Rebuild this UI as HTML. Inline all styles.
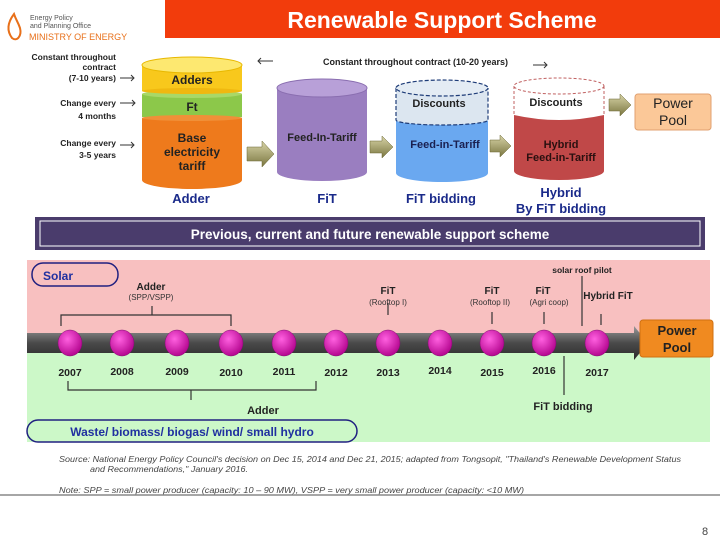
<!DOCTYPE html>
<html><head><meta charset="utf-8"><style>
html,body{margin:0;padding:0;background:#fff;width:720px;height:540px;overflow:hidden}
svg{display:block}
text{font-family:"Liberation Sans",sans-serif}
</style></head><body>
<svg width="720" height="540" viewBox="0 0 720 540" xmlns="http://www.w3.org/2000/svg">
<defs>
<linearGradient id="arr" x1="0" y1="0" x2="0" y2="1"><stop offset="0" stop-color="#d8d4a8"/><stop offset="1" stop-color="#7a7640"/></linearGradient>
<linearGradient id="bar" x1="0" y1="0" x2="0" y2="1"><stop offset="0" stop-color="#9a9a9a"/><stop offset="0.5" stop-color="#4a4a4a"/><stop offset="1" stop-color="#2a2a2a"/></linearGradient>
<radialGradient id="dot" cx="0.4" cy="0.35" r="0.7"><stop offset="0" stop-color="#ff60e0"/><stop offset="1" stop-color="#b0008a"/></radialGradient>
</defs>
<rect x="165" y="0" width="555" height="38" fill="#f23c0c"/>
<text x="442" y="28" font-size="23" font-weight="bold" fill="#fff" text-anchor="middle">Renewable Support Scheme</text>
<path d="M14 14 C8 22 6 30 12 38 C17 42 22 36 20 28 C18 22 16 20 14 14Z" fill="none" stroke="#e8701a" stroke-width="2"/>
<text x="30" y="20" font-size="7" fill="#555">Energy Policy</text>
<text x="30" y="28" font-size="7" fill="#555">and Planning Office</text>
<text x="29" y="40" font-size="9" fill="#e8701a">MINISTRY OF ENERGY</text>
<g font-size="8.5" font-weight="bold" fill="#222" text-anchor="end">
<text x="116" y="60">Constant throughout</text>
<text x="116" y="70">contract</text>
<text x="116" y="81">(7-10 years)</text>
<text x="116" y="106">Change every</text>
<text x="116" y="119">4 months</text>
<text x="116" y="146">Change every</text>
<text x="116" y="158">3-5 years</text>
</g>
<g stroke="#333" stroke-width="1" fill="none">
<path d="M120 78 H134 M131 75 L134 78 L131 81"/>
<path d="M120 103 H135 M132 100 L135 103 L132 106"/>
<path d="M120 145 H134 M131 142 L134 145 L131 148"/>
<path d="M273 61 H258 M261 58 L258 61 L261 64"/>
<path d="M533 65 H547 M544 62 L547 65 L544 68"/>
</g>
<text x="323" y="65" font-size="9" font-weight="bold" fill="#222">Constant throughout contract (10-20 years)</text>
<path d="M142 118 V180 A50 9 0 0 0 242 180 V118Z" fill="#ee7a1c"/>
<rect x="142" y="94" width="100" height="23" fill="#8cc84a"/>
<ellipse cx="192" cy="94" rx="50" ry="4" fill="#a8d868"/>
<rect x="142" y="65" width="100" height="26" fill="#f8c81c"/>
<ellipse cx="192" cy="91" rx="50" ry="3" fill="#f0b810"/>
<ellipse cx="192" cy="118" rx="50" ry="3" fill="#f09038"/>
<ellipse cx="192" cy="65" rx="50" ry="8" fill="#fde870" stroke="#e8b800"/>
<g font-size="12" font-weight="bold" fill="#222" text-anchor="middle">
<text x="192" y="84">Adders</text>
<text x="192" y="111">Ft</text>
<text x="192" y="142">Base</text>
<text x="192" y="156">electricity</text>
<text x="192" y="170">tariff</text>
</g>
<path d="M277 88 V172 A45 9 0 0 0 367 172 V88Z" fill="#9a7ec0"/>
<ellipse cx="322" cy="88" rx="45" ry="9" fill="#b8a0d8" stroke="#8a6eb0"/>
<text x="322" y="141" font-size="11" font-weight="bold" fill="#222" text-anchor="middle">Feed-In-Tariff</text>
<path d="M396 120 V173 A46 9 0 0 0 488 173 V120Z" fill="#6aa8f0"/>
<path d="M396 88 V120 A46 5 0 0 0 488 120 V88Z" fill="#dce6f0"/>
<path d="M396 88 V120 A46 5 0 0 0 488 120 V88" fill="none" stroke="#1e3c78" stroke-dasharray="4 2" stroke-width="1.2"/>
<ellipse cx="442" cy="88" rx="46" ry="8" fill="#e4ecf4" stroke="#1e3c78" stroke-dasharray="4 2" stroke-width="1.2"/>
<text x="439" y="107" font-size="11" font-weight="bold" fill="#222" text-anchor="middle">Discounts</text>
<text x="445" y="148" font-size="11" font-weight="bold" fill="#1a2050" text-anchor="middle">Feed-in-Tariff</text>
<path d="M514 115 V171 A45 9 0 0 0 604 171 V115Z" fill="#c04848"/>
<path d="M514 86 V115 Q559 125 604 115 V86Z" fill="#fff"/>
<path d="M514 86 V115 M604 86 V115" stroke="#c06060" stroke-dasharray="3 2"/>
<ellipse cx="559" cy="86" rx="45" ry="8" fill="#fff" stroke="#c06060" stroke-dasharray="3 2"/>
<text x="556" y="106" font-size="11" font-weight="bold" fill="#222" text-anchor="middle">Discounts</text>
<text x="561" y="148" font-size="11" font-weight="bold" fill="#2a1010" text-anchor="middle">Hybrid</text>
<text x="561" y="161" font-size="11" font-weight="bold" fill="#2a1010" text-anchor="middle">Feed-in-Tariff</text>
<g fill="url(#arr)" stroke="#6a6630" stroke-width="0.5">
<path d="M247 147 H262 V141 L274 154 L262 167 V161 H247Z"/>
<path d="M370 141 H382 V136 L393 147 L382 158 V153 H370Z"/>
<path d="M490 140 H500 V135 L511 146 L500 157 V152 H490Z"/>
<path d="M609 99 H620 V94 L631 105 L620 116 V111 H609Z"/>
</g>
<rect x="635" y="94" width="76" height="36" rx="3" fill="#fbc898" stroke="#e0a070"/>
<text x="673" y="108" font-size="14" fill="#222" text-anchor="middle">Power</text>
<text x="673" y="125" font-size="14" fill="#222" text-anchor="middle">Pool</text>
<g font-size="13" font-weight="bold" fill="#1a2a8a" text-anchor="middle">
<text x="191" y="203">Adder</text>
<text x="327" y="203">FiT</text>
<text x="441" y="203">FiT bidding</text>
<text x="561" y="197">Hybrid</text>
<text x="561" y="213">By FiT bidding</text>
</g>
<rect x="35" y="217" width="670" height="33" fill="#4a3c6c"/>
<rect x="40" y="221" width="660" height="25" fill="none" stroke="#fff" stroke-width="1"/>
<text x="370" y="239" font-size="13.5" font-weight="bold" fill="#fff" text-anchor="middle">Previous, current and future renewable support scheme</text>
<rect x="27" y="260" width="683" height="82" fill="#f8c0c0"/>
<rect x="27" y="342" width="683" height="100" fill="#ccf8c8"/>
<rect x="32" y="263" width="86" height="23" rx="11" fill="none" stroke="#202080" stroke-width="1.5"/>
<text x="43" y="280" font-size="12" font-weight="bold" fill="#2030a0">Solar</text>
<path d="M27 333 H634 V326 L648 343 L634 360 V353 H27Z" fill="url(#bar)"/>
<g fill="url(#dot)" stroke="#801070" stroke-width="0.5">
<ellipse cx="70" cy="343" rx="12" ry="13"/><ellipse cx="122" cy="343" rx="12" ry="13"/>
<ellipse cx="177" cy="343" rx="12" ry="13"/><ellipse cx="231" cy="343" rx="12" ry="13"/>
<ellipse cx="284" cy="343" rx="12" ry="13"/><ellipse cx="336" cy="343" rx="12" ry="13"/>
<ellipse cx="388" cy="343" rx="12" ry="13"/><ellipse cx="440" cy="343" rx="12" ry="13"/>
<ellipse cx="492" cy="343" rx="12" ry="13"/><ellipse cx="544" cy="343" rx="12" ry="13"/>
<ellipse cx="597" cy="343" rx="12" ry="13"/>
</g>
<rect x="640" y="320" width="73" height="37" rx="3" fill="#f08a20" stroke="#d07010"/>
<text x="677" y="335" font-size="13" font-weight="bold" fill="#222" text-anchor="middle">Power</text>
<text x="677" y="352" font-size="13" font-weight="bold" fill="#222" text-anchor="middle">Pool</text>
<g font-size="10.5" font-weight="bold" fill="#222" text-anchor="middle">
<text x="70" y="376">2007</text><text x="122" y="375">2008</text><text x="177" y="375">2009</text>
<text x="231" y="376">2010</text><text x="284" y="375">2011</text><text x="336" y="376">2012</text>
<text x="388" y="376">2013</text><text x="440" y="374">2014</text><text x="492" y="376">2015</text>
<text x="544" y="374">2016</text><text x="597" y="376">2017</text>
</g>
<g stroke="#333" stroke-width="1.2" fill="none">
<path d="M61 326 V315 H231 V326 M152 315 V306"/>
<path d="M68 381 V390 H316 V381 M191 390 V400"/>
<path d="M388 315 V303"/><path d="M492 324 V312"/><path d="M544 324 V312"/>
<path d="M582 276 V326"/><path d="M601 325 V314"/><path d="M564 356 V395"/>
</g>
<g font-size="10" font-weight="bold" fill="#222" text-anchor="middle">
<text x="151" y="290">Adder</text>
<text x="388" y="294">FiT</text>
<text x="492" y="294">FiT</text>
<text x="543" y="294">FiT</text>
<text x="608" y="299">Hybrid FiT</text>
<text x="582" y="273" font-size="8.5">solar roof pilot</text>
<text x="263" y="414" font-size="11">Adder</text>
<text x="563" y="410" font-size="11">FiT bidding</text>
</g>
<g font-size="8" fill="#333" text-anchor="middle">
<text x="151" y="300">(SPP/VSPP)</text>
<text x="388" y="305">(Rooftop I)</text>
<text x="490" y="305">(Rooftop II)</text>
<text x="549" y="305">(Agri coop)</text>
</g>
<rect x="27" y="420" width="330" height="22" rx="11" fill="none" stroke="#202080" stroke-width="1.5"/>
<text x="192" y="436" font-size="12" font-weight="bold" fill="#2030a0" text-anchor="middle">Waste/ biomass/ biogas/ wind/ small hydro</text>
<g font-size="8" font-style="italic" fill="#444">
<text x="59" y="462" textLength="622" lengthAdjust="spacingAndGlyphs">Source: National Energy Policy Council's decision on Dec 15, 2014 and Dec 21, 2015; adapted from Tongsopit, "Thailand's Renewable Development Status</text>
<text x="90" y="472" textLength="158" lengthAdjust="spacingAndGlyphs">and Recommendations," January 2016.</text>
<text x="59" y="493" textLength="465" lengthAdjust="spacingAndGlyphs">Note: SPP = small power producer (capacity: 10 – 90 MW), VSPP = very small power producer (capacity: &lt;10 MW)</text>
</g>
<line x1="0" y1="495" x2="720" y2="495" stroke="#888" stroke-width="1.5"/>
<text x="705" y="535" font-size="11" fill="#444" text-anchor="middle">8</text>
</svg>
</body></html>
